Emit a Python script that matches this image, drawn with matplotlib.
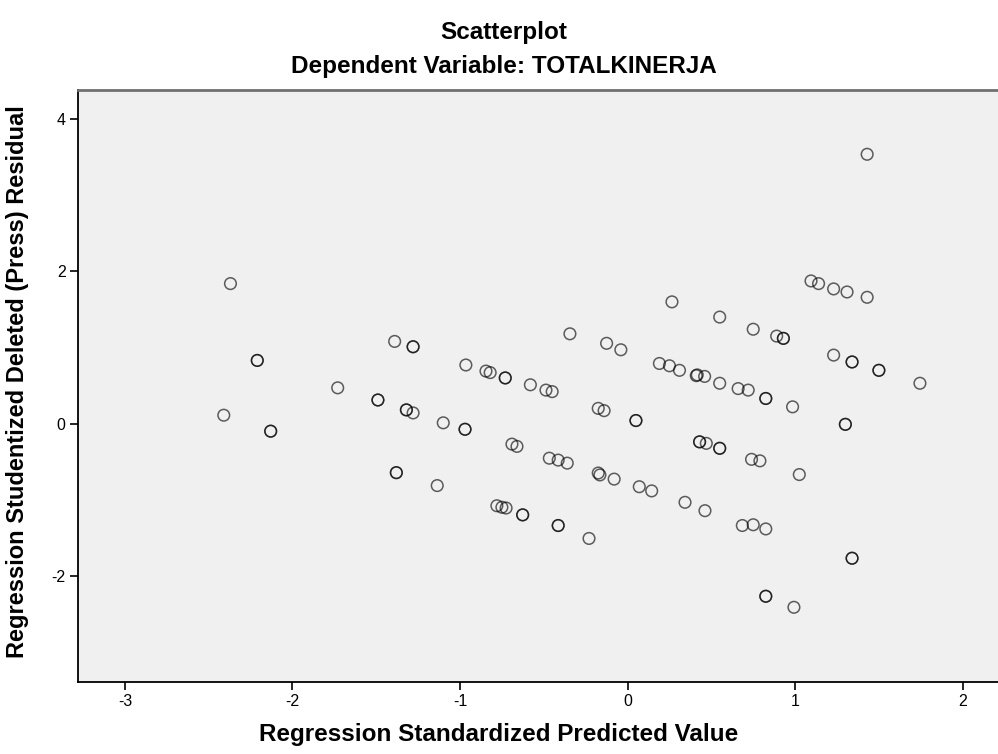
import matplotlib
matplotlib.use("Agg")
import matplotlib.pyplot as plt

plt.rcParams['font.family'] = ['Liberation Sans', 'DejaVu Sans']
plt.rcParams['axes.unicode_minus'] = False

# Regression Standardized Predicted Value
pred = [-2.41, -2.37, -2.21, -2.21, -2.13, -2.13, -1.73, -1.49, -1.49, -1.39, -1.38, -1.38,
        -1.32, -1.32, -1.28, -1.28, -1.28, -1.136, -1.10, -0.97, -0.97, -0.965, -0.845, -0.82,
        -0.78, -0.75, -0.725, -0.73, -0.73, -0.69, -0.66, -0.626, -0.626, -0.58, -0.487, -0.45,
        -0.467, -0.414, -0.36, -0.414, -0.414, -0.344, -0.23, -0.175, -0.14, -0.175, -0.165,
        -0.08, -0.125, -0.04, 0.05, 0.05, 0.07, 0.144, 0.19, 0.25, 0.31, 0.265, 0.343, 0.41,
        0.416, 0.46, 0.43, 0.43, 0.47, 0.462, 0.55, 0.55, 0.55, 0.55, 0.66, 0.72, 0.685, 0.75,
        0.74, 0.75, 0.79, 0.825, 0.825, 0.825, 0.825, 0.825, 0.89, 0.93, 0.93, 0.985, 0.993,
        1.025, 1.095, 1.14, 1.23, 1.23, 1.30, 1.30, 1.31, 1.34, 1.34, 1.34, 1.34, 1.43, 1.43,
        1.50, 1.50, 1.745]
# Regression Studentized Deleted (Press) Residual
resid = [0.11, 1.84, 0.83, 0.83, -0.10, -0.10, 0.47, 0.31, 0.31, 1.08, -0.645, -0.645,
         0.18, 0.18, 1.01, 1.01, 0.14, -0.815, 0.01, -0.075, -0.075, 0.77, 0.69, 0.67,
         -1.08, -1.10, -1.11, 0.60, 0.60, -0.27, -0.30, -1.20, -1.20, 0.51, 0.44, 0.42,
         -0.455, -0.48, -0.52, -1.34, -1.34, 1.18, -1.51, 0.20, 0.17, -0.65, -0.675,
         -0.73, 1.055, 0.97, 0.04, 0.04, -0.83, -0.885, 0.79, 0.76, 0.70, 1.60, -1.035, 0.63,
         0.64, 0.62, -0.24, -0.24, -0.26, -1.145, 1.40, 0.53, -0.325, -0.325, 0.46, 0.44, -1.34, -1.33,
         -0.47, 1.24, -0.49, 0.33, 0.33, -1.385, -2.27, -2.27, 1.15, 1.12, 1.12, 0.22, -2.415,
         -0.67, 1.875, 1.84, 1.77, 0.90, -0.01, -0.01, 1.73, 0.81, 0.81, -1.77, -1.77, 3.54, 1.66,
         0.70, 0.70, 0.53]

xticks = [-3, -2, -1, 0, 1, 2]
yticks = [-2, 0, 2, 4]

fig = plt.figure(figsize=(9.98, 7.54), dpi=100)
ax = fig.add_axes([78/998, 1-682/754, 1-78/998, (682-90)/754])
ax.set_facecolor('#F0F0F0')

ax.scatter(pred, resid, s=70, facecolors='none', edgecolors='#000000',
           linewidths=1.1, alpha=0.62, zorder=3)

ax.set_xlim(-3.28, 2.211)
ax.set_ylim(-3.397, 4.385)
ax.set_xticks(xticks)
ax.set_yticks(yticks)
ax.tick_params(axis='both', direction='out', length=6, width=1.2, labelsize=11.5,
               colors='black', pad=3)

for s in ['left', 'bottom']:
    ax.spines[s].set_color('black')
    ax.spines[s].set_linewidth(1.3)
ax.spines['top'].set_color('#707070')
ax.spines['top'].set_linewidth(2)
ax.spines['right'].set_visible(False)

fig.text(0.5, 1-735/754, 'Regression Standardized Predicted Value', ha='center',
         va='center', fontsize=17.5, fontweight='bold')
fig.text(18/998, 1-382/754, 'Regression Studentized Deleted (Press) Residual',
         ha='center', va='center', rotation=90, fontsize=17, fontweight='bold')

fig.text(0.505, 1-33/754, 'Scatterplot', ha='center', va='center',
         fontsize=17.5, fontweight='bold')
fig.text(0.505, 1-67/754, 'Dependent Variable: TOTALKINERJA', ha='center', va='center',
         fontsize=17.5, fontweight='bold')

fig.savefig('out.png', dpi=100)
